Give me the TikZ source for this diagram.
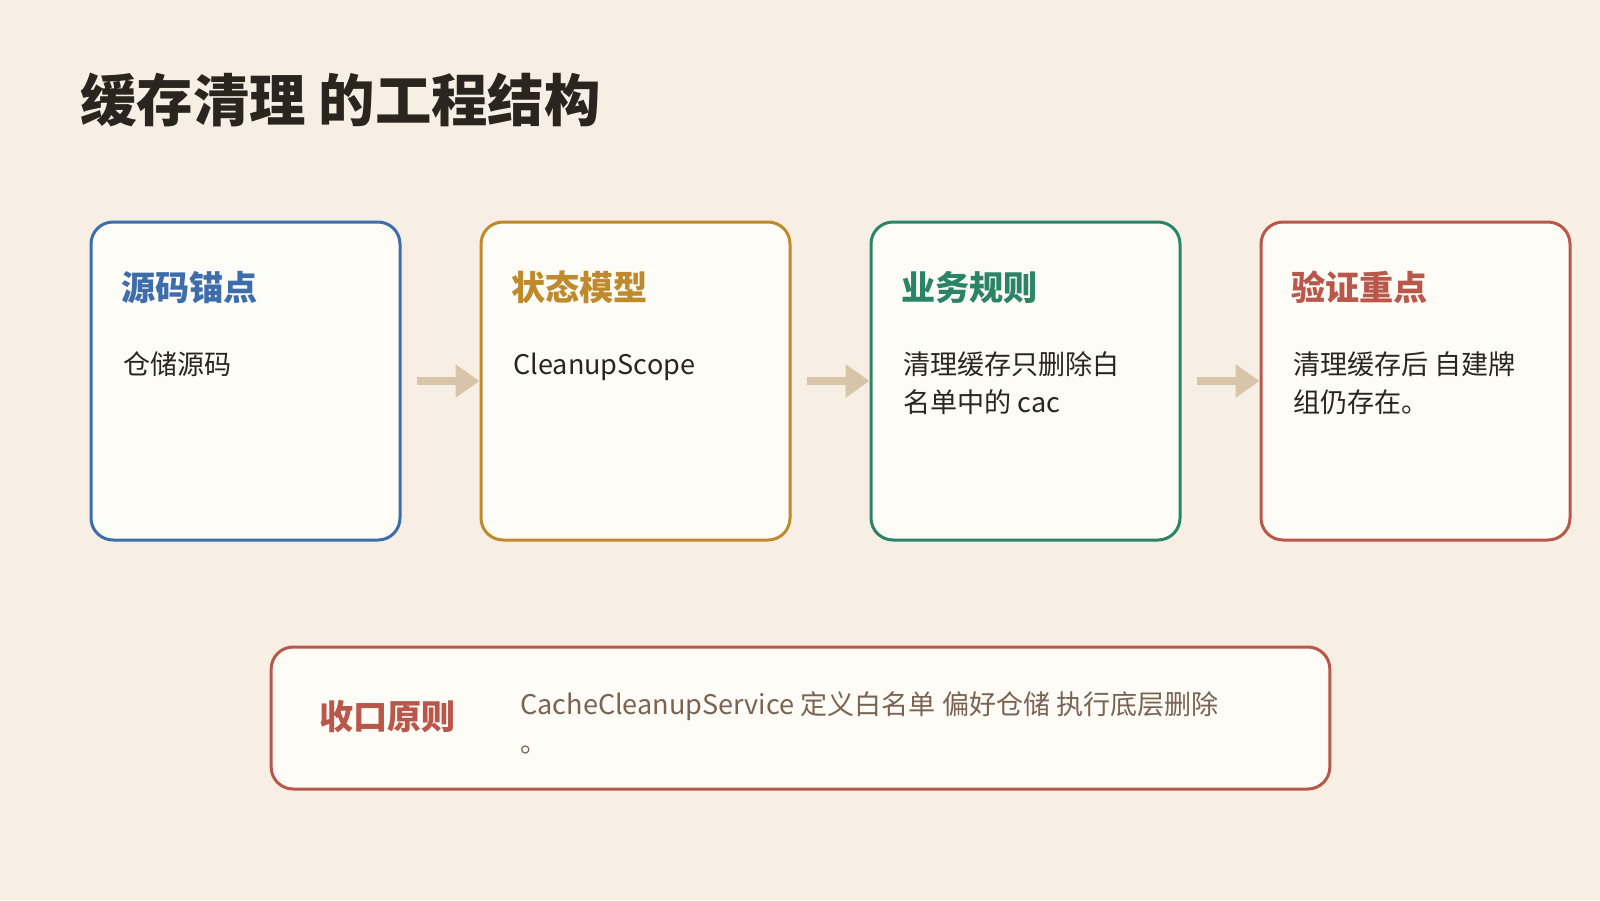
\documentclass[tikz,border=0pt]{standalone}
\usepackage{fontspec}
\usepackage{xcolor}
\usetikzlibrary{arrows.meta}
\setmainfont{Noto Sans CJK SC}

\definecolor{bgcol}{HTML}{F7EFE3}
\definecolor{cardcol}{HTML}{FEFCF7}
\definecolor{inkcol}{HTML}{2B251F}
\definecolor{bluecol}{HTML}{3D6DAA}
\definecolor{goldcol}{HTML}{BE8A2C}
\definecolor{greencol}{HTML}{2B8468}
\definecolor{redcol}{HTML}{B8574A}
\definecolor{flowcol}{HTML}{D8C5A9}
\definecolor{notecol}{HTML}{7A6352}

\tikzset{
  card/.style={draw=#1, fill=cardcol, line width=2.25pt, rounded corners=16.5pt,
    minimum width=231.75pt, minimum height=238.5pt, inner sep=0pt},
  cardhead/.style={anchor=base west, inner sep=0pt, text=#1,
    font=\fontsize{25.6pt}{31pt}\selectfont\bfseries},
  cardtext/.style={anchor=base west, inner sep=0pt, align=left, text=inkcol,
    font=\fontsize{20.3pt}{28.5pt}\selectfont},
  flow/.style={draw=flowcol, line width=6pt, shorten <=11.25pt,
    -{Triangle[length=18pt,width=24pt]}}
}

\begin{document}
\begin{tikzpicture}[x=0.75pt, y=-0.75pt]

    \fill [bgcol] (0, 0) rectangle (1600, 900);
    \useasboundingbox (0, 0) rectangle (1600, 900);

    \node [anchor=base west, inner sep=0pt, text=inkcol,
      font=\fontsize{42.3pt}{52pt}\selectfont\bfseries] (title) at (80, 121) {缓存清理 的工程结构};

    \node [card=bluecol] (src) at (245.5, 381) {};
    \node [card=goldcol] (state) at (635.5, 381) {};
    \node [card=greencol] (rule) at (1025.5, 381) {};
    \node [card=redcol] (check) at (1415.5, 381) {};

    \node [cardhead=bluecol] (srchead) at (121, 300) {源码锚点};
    \node [cardhead=goldcol] (statehead) at (511, 300) {状态模型};
    \node [cardhead=greencol] (rulehead) at (901, 300) {业务规则};
    \node [cardhead=redcol] (checkhead) at (1291, 300) {验证重点};

    % base of a two-line node is its last line
    \node [cardtext] (srctext) at (123, 374) {仓储源码};
    \node [cardtext] (statetext) at (513, 374) {CleanupScope};
    \node [cardtext] (ruletext) at (903, 412) {清理缓存只删除白\\名单中的 cac};
    \node [cardtext] (checktext) at (1293, 412) {清理缓存后 自建牌\\组仍存在。};

    \draw [flow] (src) -- (state);
    \draw [flow] (state) -- (rule);
    \draw [flow] (rule) -- (check);

    \node [card=redcol, minimum width=794pt, minimum height=106.5pt] (rulebox) at (800.5, 718) {};
    \node [cardhead=redcol] (rulename) at (319, 729) {收口原则};
    \node [cardtext, text=notecol, font=\fontsize{20.3pt}{28pt}\selectfont] (ruletextb) at (520, 752)
      {CacheCleanupService 定义白名单 偏好仓储 执行底层删除\\。};

  \end{tikzpicture}
\end{document}
